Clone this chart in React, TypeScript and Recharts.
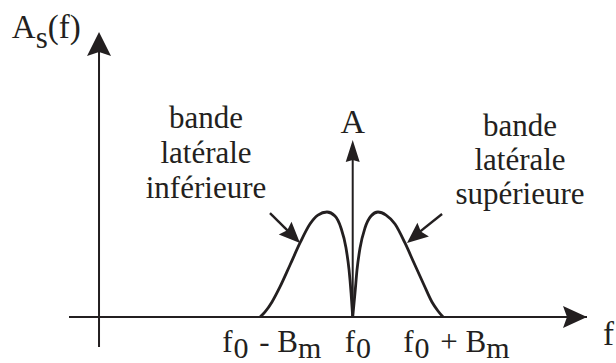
import React from "react";
import { ComposedChart, Line, XAxis, YAxis, ReferenceLine, ReferenceDot } from "recharts";

// ---- data (f axis: f0 = 0, Bm = 1 ; amplitude: lobe peak = 1) ----
const leftU = [-1.013, -0.958, -0.882, -0.795, -0.685, -0.576, -0.467, -0.38, -0.281, -0.194, -0.128, -0.073, -0.04, -0.018, 0];
const leftV = [0.0, 0.048, 0.143, 0.286, 0.495, 0.705, 0.886, 0.971, 1.0, 0.962, 0.848, 0.657, 0.448, 0.229, 0.0];
const rightU = [0, 0.025, 0.047, 0.08, 0.134, 0.2, 0.276, 0.364, 0.462, 0.571, 0.67, 0.779, 0.866, 0.932, 0.987];
const rightV = [0.0, 0.229, 0.448, 0.657, 0.848, 0.962, 1.0, 0.971, 0.886, 0.705, 0.514, 0.305, 0.143, 0.057, 0.0];

const tickValues = [-1, 0, 1];
const tickMain = ["f", "f", "f"];
const tickSub = ["0", "0", "0"];
const tickOp = [" - ", "", " + "];
const tickMain2 = ["B", "", "B"];
const tickSub2 = ["m", "", "m"];

const carrierU = 0;
const carrierA = 1.686;

const leftBandLines = ["bande", "latérale", "inférieure"];
const rightBandLines = ["bande", "latérale", "supérieure"];

const leftLobe = leftU.map((u, i) => ({ u, v: leftV[i] }));
const rightLobe = rightU.map((u, i) => ({ u, v: rightV[i] }));

const INK = "#231f20";
const FONT = "'Liberation Serif', 'Times New Roman', serif";

const arrowHead = (angleDeg: number, L: number, W: number, N: number) => (p: any) => {
  const a = (angleDeg * Math.PI) / 180;
  const dx = Math.cos(a), dy = Math.sin(a);
  const nx = -dy, ny = dx;
  const tx = p.cx, ty = p.cy;
  const bx = tx - L * dx, by = ty - L * dy;
  const mx = tx - (L - N) * dx, my = ty - (L - N) * dy;
  const d = `M${tx},${ty} L${bx + W * nx},${by + W * ny} L${mx},${my} L${bx - W * nx},${by - W * ny} Z`;
  return <path d={d} fill={INK} stroke="none" />;
};

const textShape = (lines: string[], size: number, anchor: string, lineGap: number) => (p: any) => (
  <text x={p.cx} y={p.cy} fontFamily={FONT} fontSize={size} fill={INK} textAnchor={anchor}>
    {lines.map((l, i) => (
      <tspan key={i} x={p.cx} dy={i === 0 ? 0 : lineGap}>{l}</tspan>
    ))}
  </text>
);

const axisTitleY = (p: any) => (
  <text x={p.cx} y={p.cy} fontFamily={FONT} fontSize={33} fill={INK} style={{ whiteSpace: "pre" }}>
    <tspan>A</tspan>
    <tspan dy={10} fontSize={31}>s</tspan>
    <tspan dy={-10}>(f)</tspan>
  </text>
);

const tickStartOffset = [-39, -8, -41];

const TickLabel = (props: any) => {
  const { x, y, payload } = props;
  const i = tickValues.indexOf(payload.value);
  if (i < 0) return null;
  return (
    <text x={x + tickStartOffset[i]} y={y + 35} fontFamily={FONT} fontSize={31} fill={INK} style={{ whiteSpace: "pre" }}>
      <tspan>{tickMain[i]}</tspan>
      <tspan dx={1} dy={6} fontSize={30}>{tickSub[i]}</tspan>
      <tspan dx={3} dy={-6}>{tickOp[i] + tickMain2[i]}</tspan>
      {tickSub2[i] ? <tspan dy={6} fontSize={30}>{tickSub2[i]}</tspan> : null}
    </text>
  );
};

export default function App() {
  return (
    <div style={{ position: "absolute", left: 0, top: 0, background: "#fff" }}>
      <ComposedChart width={616} height={363} margin={{ top: 0, right: 29, bottom: 0, left: 69 }}>
        <XAxis
          type="number"
          dataKey="u"
          domain={[-3.1, 2.56]}
          allowDataOverflow
          ticks={tickValues}
          interval={0}
          height={46}
          tickLine={false}
          tickSize={0}
          tickMargin={0}
          axisLine={{ stroke: INK, strokeWidth: 2 }}
          tick={<TickLabel />}
        />
        <YAxis type="number" domain={[0, 3.019]} allowDataOverflow hide />

        {/* vertical axis */}
        <ReferenceLine
          ifOverflow="visible"
          segment={[{ x: -2.772, y: -0.286 }, { x: -2.772, y: 2.55 }]}
          stroke={INK}
          strokeWidth={2}
        />
        <ReferenceDot ifOverflow="visible" x={-2.772} y={2.714} r={0} shape={arrowHead(-90, 24, 12, 4)} />
        {/* horizontal axis arrow */}
        <ReferenceDot ifOverflow="visible" x={2.56} y={0} r={0} shape={arrowHead(0, 24, 11, 4)} />

        {/* carrier */}
        <ReferenceLine
          ifOverflow="visible"
          segment={[{ x: carrierU, y: 0 }, { x: carrierU, y: carrierA - 0.15 }]}
          stroke={INK}
          strokeWidth={2}
        />
        <ReferenceDot ifOverflow="visible" x={carrierU} y={carrierA} r={0} shape={arrowHead(-90, 22, 7, 2)} />

        <Line data={leftLobe} dataKey="v" type="monotone" stroke={INK} strokeWidth={2.8} dot={false} isAnimationActive={false} />
        <Line data={rightLobe} dataKey="v" type="monotone" stroke={INK} strokeWidth={2.8} dot={false} isAnimationActive={false} />

        {/* pointer arrows */}
        <ReferenceLine
          ifOverflow="visible"
          segment={[{ x: -0.904, y: 0.99 }, { x: -0.65, y: 0.77 }]}
          stroke={INK}
          strokeWidth={2.4}
        />
        <ReferenceDot ifOverflow="visible" x={-0.576} y={0.705} r={0} shape={arrowHead(45, 21, 9, 3)} />
        <ReferenceLine
          ifOverflow="visible"
          segment={[{ x: 0.976, y: 0.981 }, { x: 0.68, y: 0.775 }]}
          stroke={INK}
          strokeWidth={2.4}
        />
        <ReferenceDot ifOverflow="visible" x={0.593} y={0.705} r={0} shape={arrowHead(140.4, 21, 9, 3)} />

        {/* texts */}
        <ReferenceDot ifOverflow="visible" x={-1.603} y={1.8} r={0} shape={textShape(leftBandLines, 31, "middle", 35)} />
        <ReferenceDot ifOverflow="visible" x={1.828} y={1.724} r={0} shape={textShape(rightBandLines, 31, "middle", 34)} />
        <ReferenceDot ifOverflow="visible" x={carrierU} y={1.752} r={0} shape={textShape(["A"], 34, "middle", 0)} />
        <ReferenceDot ifOverflow="visible" x={2.735} y={-0.267} r={0} shape={textShape(["f"], 33, "start", 0)} />
        <ReferenceDot ifOverflow="visible" x={-3.725} y={2.657} r={0} shape={axisTitleY} />
      </ComposedChart>
    </div>
  );
}
